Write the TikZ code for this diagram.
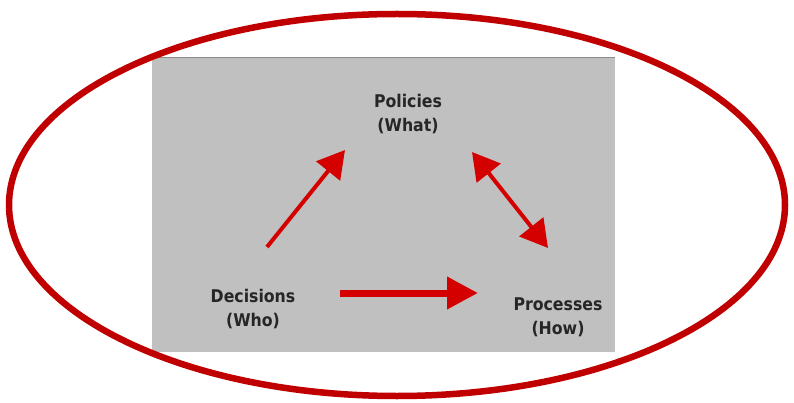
\documentclass[tikz,border=0pt]{standalone}
\usepackage{fontspec}
\setmainfont{DejaVu Sans Condensed}
\usetikzlibrary{arrows.meta}
\definecolor{panel}{HTML}{C0C0C0}
\definecolor{ringred}{HTML}{C00000}
\definecolor{arrred}{HTML}{D40000}
\begin{document}
\begin{tikzpicture}[x=1pt,y=-1pt,
  label/.style={font=\fontsize{17.5}{24}\selectfont\bfseries, text=black!85, align=center, inner sep=0pt},
  flow/.style={draw=arrred, line width=4pt, -{Triangle[length=27pt,width=30pt]}},
  twoway/.style={draw=arrred, line width=4pt, {Triangle[length=27pt,width=30pt]}-{Triangle[length=27pt,width=30pt]}},
  thick flow/.style={draw=arrred, line width=7pt, -{Triangle[length=31pt,width=31pt]}}]
  \useasboundingbox (0,0) rectangle (794,403);
  % grey panel
  \fill[panel] (152,57) rectangle (615,352);
  \draw[black!45, line width=0.8pt] (152,57) -- (615,57);
  % labels
  \node[label] (pol) at (408,114) {Policies\\(What)};
  \node[label] (dec) at (253,309) {Decisions\\(Who)};
  \node[label] (pro) at (558,317) {Processes\\(How)};
  % arrow end points
  \coordinate (d1) at (267,247);
  \coordinate (p1) at (345,150);
  \coordinate (p2) at (472,152);
  \coordinate (r1) at (548,248);
  \coordinate (d2) at (340,293);
  \coordinate (r2) at (478,293);
  \draw[flow] (d1) -- (p1);
  \draw[twoway] (p2) -- (r1);
  \draw[thick flow] (d2) -- (r2);
  % surrounding ring
  \draw[ringred, line width=6.5pt] (397,205) ellipse [x radius=388, y radius=191];
\end{tikzpicture}
\end{document}
